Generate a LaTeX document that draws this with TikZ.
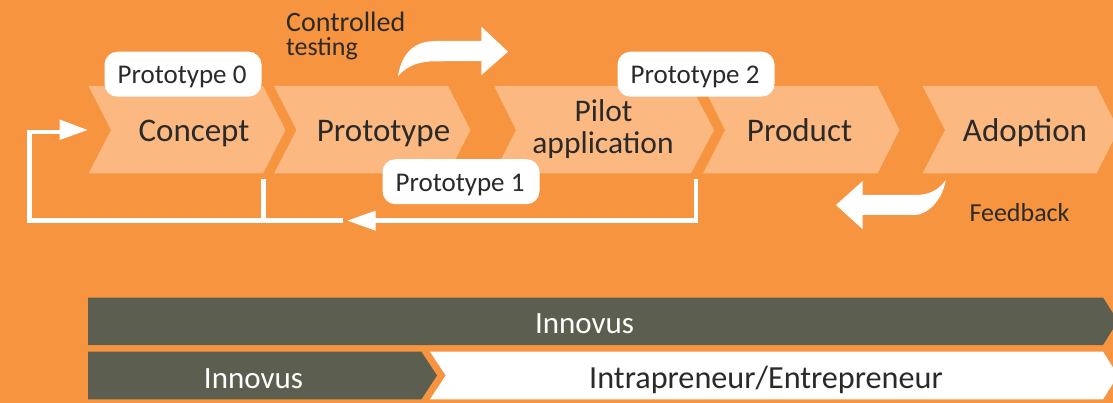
\documentclass[tikz,border=0pt]{standalone}
\usepackage{fontspec}
\setmainfont{Carlito}
\definecolor{bgorange}{HTML}{F79440}
\definecolor{chevfill}{HTML}{FBB981}
\definecolor{darkbar}{HTML}{5C5F4F}
\definecolor{inktext}{HTML}{2B2A29}
\tikzset{
  stagelabel/.style={text=inktext,font=\fontsize{33}{34}\selectfont,anchor=base,inner sep=0pt},
  pilotlabel/.style={text=inktext,font=\fontsize{31.5}{32}\selectfont,anchor=base,inner sep=0pt},
  pillbox/.style={fill=white,rounded corners=13pt,minimum width=157pt,minimum height=45pt,inner sep=0pt},
  pilltext/.style={text=inktext,font=\fontsize{27}{28}\selectfont,anchor=base,inner sep=0pt},
  smalllabel/.style={text=inktext,font=\fontsize{26}{25}\selectfont,anchor=base,inner sep=0pt},
  barlabel/.style={text=white,font=\fontsize{31}{32}\selectfont,anchor=base,inner sep=0pt},
  whiteline/.style={draw=white,line width=4.6pt,line cap=butt,line join=miter},
  whitehead/.style={fill=white,draw=none},
}
\begin{document}
\begin{tikzpicture}[x=1pt,y=-1pt]
\useasboundingbox (0,0) rectangle (1113,403);
\clip (0,0) rectangle (1113,403);
\fill[bgorange] (0,0) rectangle (1113,403);
% stage chevrons
\fill[chevfill] (88.5,86) -- (263,86) -- (285.5,130) -- (263,173.5) -- (88.5,173.5) -- (111,130) -- cycle;
\fill[chevfill] (274,86) -- (448,86) -- (470.5,130) -- (448,173.5) -- (274,173.5) -- (296.5,130) -- cycle;
\fill[chevfill] (494,86) -- (691,86) -- (714,130) -- (691,173.5) -- (494,173.5) -- (516,130) -- cycle;
\fill[chevfill] (703,86) -- (877.5,86) -- (899.5,130) -- (877.5,173.5) -- (703,173.5) -- (725,130) -- cycle;
\fill[chevfill] (922.5,86) -- (1096.5,86) -- (1118.5,130) -- (1096.5,173.5) -- (922.5,173.5) -- (945,130) -- cycle;
% stage labels
\node[stagelabel] (concept) at (194,142) {Concept};
\node[stagelabel] (prototype) at (383.5,142) {Prototype};
\node[pilotlabel] (pilot) at (603.5,121.7) {Pilot};
\node[pilotlabel] (application) at (603,153.3) {application};
\node[stagelabel] (product) at (799.5,142) {Product};
\node[stagelabel] (adoption) at (1025,142) {Adoption};
% feedback loop connectors
\coordinate (loopA) at (695.8,179);
\coordinate (loopB) at (695.8,220.6);
\coordinate (loopHead) at (375,220.6);
\coordinate (loopC) at (263.6,179);
\coordinate (loopD) at (263.6,220.6);
\coordinate (loopE) at (343,220.6);
\coordinate (loopF) at (29.5,220.6);
\coordinate (loopG) at (29.5,132);
\coordinate (loopH) at (62,132);
\draw[whiteline] (loopA) -- (loopB) -- (loopHead);
\draw[whiteline] (loopE) -- (loopF) -- (loopG) -- (loopH);
\draw[whiteline] (loopC) -- (loopD);
\fill[whitehead] (347.5,220.6) -- (375.7,210.6) -- (375.7,230.8) -- cycle;
\fill[whitehead] (87.5,130) -- (59.6,119.5) -- (59.6,140) -- cycle;
% pills
\node[pillbox] (pill0) at (183,74.2) {};
\node[pillbox] (pill1) at (461,181.7) {};
\node[pillbox] (pill2) at (696,74.2) {};
\node[pilltext] (proto0) at (182,84) {Prototype 0};
\node[pilltext] (proto1) at (460,192) {Prototype 1};
\node[pilltext] (proto2) at (695,84) {Prototype 2};
% curved arrows
\fill[whitehead] (398,76) .. controls (402,52) and (415,41) .. (436,41) -- (481.4,41) -- (481.4,26.7) -- (508,51.7) -- (481.4,75) -- (481.4,61) -- (436,61.3) .. controls (420,61.3) and (408,65) .. (398,76) -- cycle;
\fill[whitehead] (945.7,180) .. controls (942,203) and (925,215) .. (915,215) -- (862.7,215) -- (862.7,229.3) -- (836,205) -- (862.7,181) -- (862.7,195) -- (915,195) .. controls (928,195) and (938,191) .. (945.7,180) -- cycle;
% small labels
\node[smalllabel,font=\fontsize{28}{28}\selectfont,anchor=base west] (controlled) at (286,32) {Controlled};
\node[smalllabel,anchor=base west] (testing) at (286,56) {testing};
\node[smalllabel] (feedback) at (1019.5,221.7) {Feedback};
% bottom bars
\fill[darkbar] (88,297.5) -- (1103,297.5) -- (1118,321) -- (1103,345) -- (88,345) -- cycle;
\fill[darkbar] (88,351.7) -- (421.4,351.7) -- (437,375.5) -- (421.4,399.3) -- (88,399.3) -- cycle;
\fill[white] (430,351.7) -- (1103,351.7) -- (1118,375.5) -- (1103,399.3) -- (430,399.3) -- (445.7,375.5) -- cycle;
\node[barlabel] (innovusTop) at (584.5,333.5) {Innovus};
\node[barlabel] (innovusLow) at (253.5,388) {Innovus};
\node[barlabel,text=inktext,font=\fontsize{32.2}{33}\selectfont] (intra) at (766,388) {Intrapreneur/Entrepreneur};
\end{tikzpicture}
\end{document}
